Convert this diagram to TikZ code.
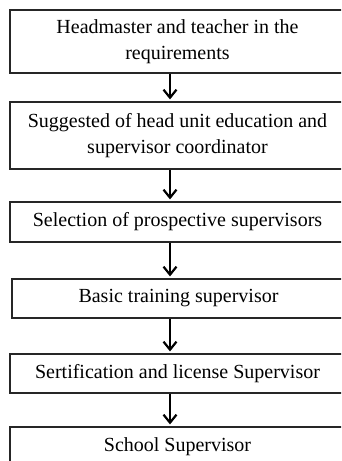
\documentclass[tikz,border=0pt]{standalone}
\usepackage{fontspec}
\setmainfont{Liberation Serif}
\usetikzlibrary{arrows.meta}
\begin{document}
\begin{tikzpicture}[x=1pt,y=-1pt,
    box/.style={draw=black!85,line width=1.2pt,rectangle,minimum width=335pt,
      inner sep=2pt,align=center,font=\fontsize{20}{26}\selectfont},
    flow/.style={-{Straight Barb[length=8pt,width=13pt]},line width=2.2pt}]
  \useasboundingbox (0,0) rectangle (341,461);
  \clip (0,0) rectangle (341,461);
  \coordinate (ax) at (170,0);
  \draw
    (177.5,41.5) node[box,minimum height=63pt] (req){Headmaster and teacher in the\\requirements}
    (177.5,135.5) node[box,minimum height=67pt] (sug){Suggested of head unit education and\\supervisor coordinator}
    (177.5,222) node[box,minimum height=40pt] (sel){Selection of prospective supervisors}
    (178.5,298.5) node[box,minimum height=39pt,minimum width=333pt] (basic){Basic training supervisor}
    (177.5,373.5) node[box,minimum height=39pt] (cert){Sertification and license Supervisor}
    (177.5,447) node[box,minimum height=40pt] (school){School Supervisor};
  \begin{scope}[flow]
    \draw (req.south -| ax) to ([yshift=2pt]sug.north -| ax);
    \draw (sug.south -| ax) to ([yshift=2pt]sel.north -| ax);
    \draw (sel.south -| ax) to ([yshift=2pt]basic.north -| ax);
    \draw (basic.south -| ax) to ([yshift=2pt]cert.north -| ax);
    \draw (cert.south -| ax) to ([yshift=2pt]school.north -| ax);
  \end{scope}
\end{tikzpicture}
\end{document}
